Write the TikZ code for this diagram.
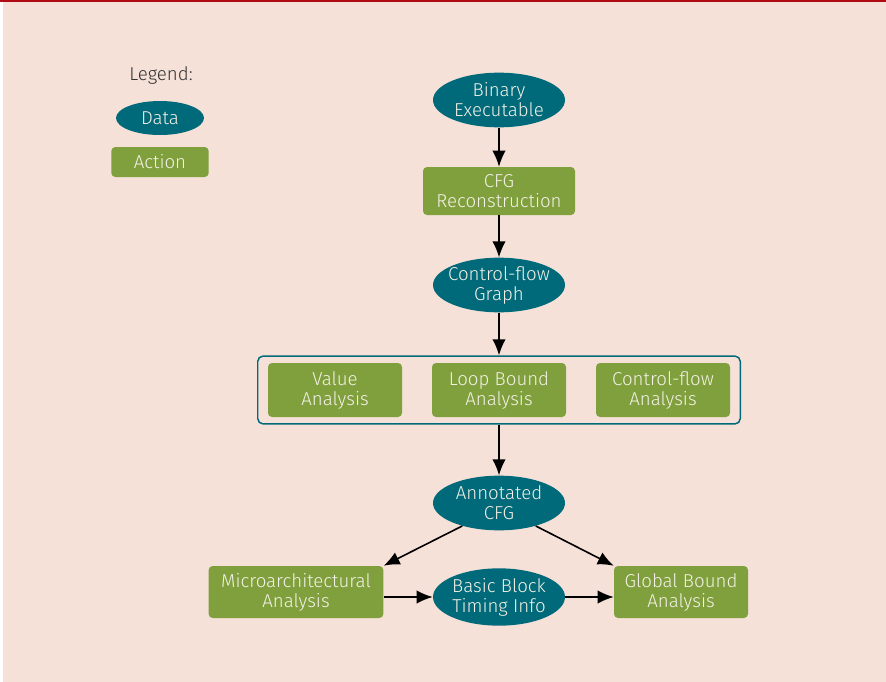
\documentclass[tikz,border=0pt]{standalone}
\usepackage{fontspec}
\setmainfont{Fira Sans Light}
\usetikzlibrary{positioning,shapes,fit,arrows.meta}
\definecolor{bgpeach}{HTML}{F5E1D7}
\definecolor{datateal}{HTML}{006A7A}
\definecolor{actiongreen}{HTML}{80A03E}
\definecolor{toprule}{HTML}{B00A14}
\definecolor{labeltext}{HTML}{F4F1E6}
\tikzset{
        x=0.75pt, y=-0.75pt, % one unit is one pixel of the reference
        >={Latex[length=12pt,width=10pt]}, % big black arrow heads
        datanode/.style={ellipse, fill=datateal, text=labeltext, minimum width=99pt, minimum height=41pt, inner xsep=-12pt, inner ysep=-6pt, align=center, font=\fontsize{14}{15}\selectfont}, % data items
        actionbox/.style={rectangle, rounded corners=3pt, fill=actiongreen, text=labeltext, minimum width=114pt, minimum height=36pt, inner sep=0pt, align=center, font=\fontsize{14}{15}\selectfont}, % actions
        flow/.style={->, line width=1.2pt, black}, % connectors
}
\begin{document}
\begin{tikzpicture}
% background and frame
\fill[white] (0,0) rectangle (886,682);
\fill[bgpeach] (3,0) rectangle (886,682);
\fill[toprule] (0,0) rectangle (886,2);
\useasboundingbox (0,0) rectangle (886,682);

% legend
\node[text=black!80, font=\fontsize{14}{15}\selectfont] (legend) at (161,75) {Legend:};
\node[datanode, minimum width=66pt, minimum height=25.5pt] (legdata) at (160,118) {Data};
\node[actionbox, minimum width=73pt, minimum height=22.5pt] (legaction) at (160,162) {Action};

% main chain
\node[datanode] (binary) at (499,100) {Binary\\Executable};
\node[actionbox] (recon) at (499,191) {CFG\\Reconstruction};
\node[datanode] (cfg) at (499,285) {Control-flow\\Graph};

\foreach \n/\x/\t in {value/335/Value\\Analysis, loop/499/Loop Bound\\Analysis, cflow/663/Control-flow\\Analysis}
  \node[actionbox, minimum width=100.5pt, minimum height=40.5pt] (\n) at (\x,390) {\t};
\node[draw=datateal, line width=1.1pt, rounded corners=4pt, fit=(value)(loop)(cflow), inner xsep=7.5pt, inner ysep=5pt] (analyses) {};

\node[datanode] (annot) at (499,503) {Annotated\\CFG};
\node[actionbox, minimum width=131pt, minimum height=39pt] (micro) at (296,592) {Microarchitectural\\Analysis};
\node[datanode, minimum height=43pt] (timing) at (499,597) {Basic Block\\Timing Info};
\node[actionbox, minimum width=100.5pt, minimum height=39pt] (global) at (681,592) {Global Bound\\Analysis};

% connectors
\draw[flow] (binary) -- (recon);
\draw[flow] (recon) -- (cfg);
\draw[flow] (cfg) -- (analyses);
\draw[flow] (analyses) -- (annot);
\draw[flow] (annot.212) -- (micro.north east);
\draw[flow] (annot.328) -- (global.north west);
\draw[flow] (micro.east |- timing) -- (timing);
\draw[flow] (timing) -- (global.west |- timing);
\end{tikzpicture}
\end{document}
